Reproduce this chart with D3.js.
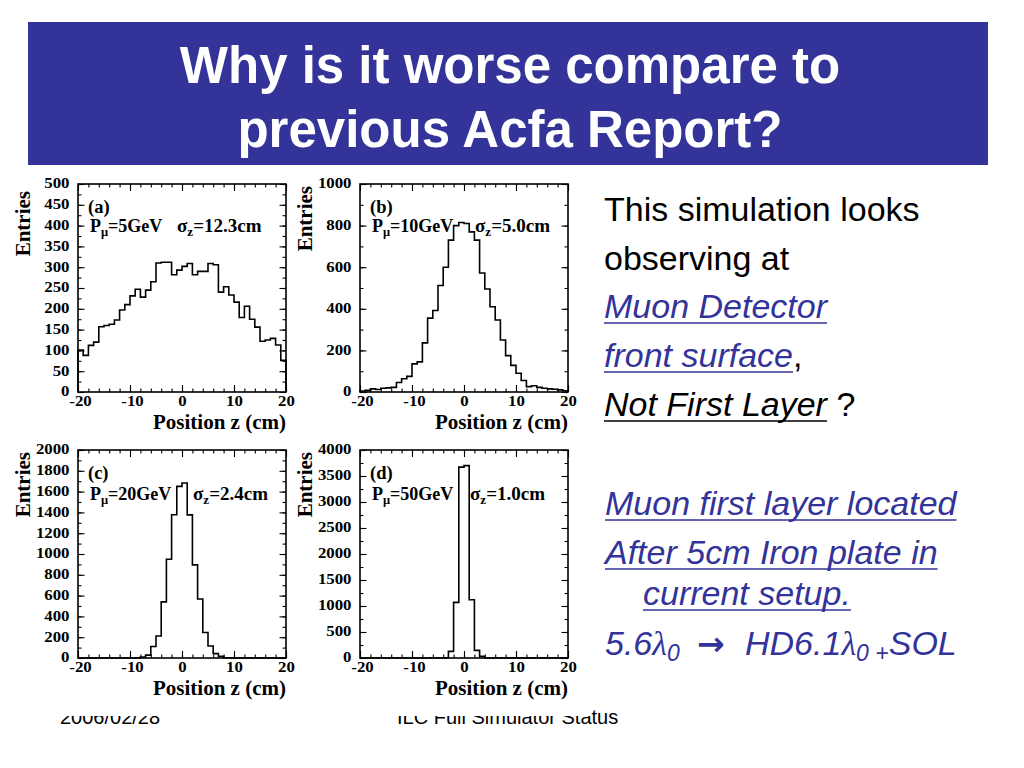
<!DOCTYPE html>
<html>
<head>
<meta charset="utf-8">
<script src="https://cdn.jsdelivr.net/npm/d3@7"></script>
<style>
  body { margin: 0; background: #fff; }
  svg { display: block; }
</style>
</head>
<body>
<svg id="slide" width="1024" height="768"></svg>
<script>
// lower edges of the 1 cm bins, -20 .. 19
const zBins = d3.range(-20, 20, 1);

// entries per bin
const countsA = [101, 88, 112, 120, 157, 160, 163, 173, 197, 210,
                 231, 247, 228, 245, 265, 310, 312, 312, 282, 293,
                 302, 309, 282, 290, 290, 309, 306, 240, 253, 233,
                 216, 179, 206, 175, 156, 122, 125, 129, 113, 76];
const countsB = [5, 8, 15, 12, 18, 20, 22, 46, 64, 75,
                 135, 145, 236, 355, 392, 512, 600, 730, 800, 815,
                 810, 770, 730, 572, 495, 410, 346, 250, 175, 128,
                 90, 55, 26, 30, 22, 18, 15, 13, 10, 6];
const countsC = [0, 0, 0, 0, 0, 0, 0, 0, 0, 0,
                 0, 0, 10, 28, 110, 212, 540, 950, 1378, 1650,
                 1683, 1376, 895, 568, 245, 116, 42, 16, 3, 0,
                 0, 0, 0, 0, 0, 0, 0, 0, 0, 0];
const countsD = [0, 0, 0, 0, 0, 0, 0, 0, 0, 0,
                 0, 0, 0, 0, 0, 0, 3, 128, 1070, 3670,
                 3700, 1120, 147, 32, 0, 0, 0, 0, 0, 0,
                 0, 0, 0, 0, 0, 0, 0, 0, 0, 0];

const panelTags  = ['(a)', '(b)', '(c)', '(d)'];
const momenta    = ['5GeV', '10GeV', '20GeV', '50GeV'];
const sigmas     = ['12.3cm', '5.0cm', '2.4cm', '1.0cm'];
const yMax       = [500, 1000, 2000, 4000];
const yLabelStep = [50, 200, 200, 500];
const yMinorStep = [25, 100, 100, 250];
const xMajor     = [-20, -10, 0, 10, 20];
const xMinor     = d3.range(-20, 21, 2);

const counts = [countsA, countsB, countsC, countsD];

// layout of the four frames (pixels)
const frames = [
  {x: 78,  y: 184, sx: 99},
  {x: 360, y: 184, sx: 115},
  {x: 78,  y: 450, sx: 115},
  {x: 360, y: 450, sx: 110}
];
const FW = 208, FH = 208;

const BLUE = '#333399';
const SERIF = '"Liberation Serif", "Times New Roman", serif';
const SANS = '"Liberation Sans", Arial, sans-serif';

const svg = d3.select('#slide');

// ---- title bar
svg.append('rect')
  .attr('x', 28).attr('y', 22).attr('width', 960).attr('height', 143)
  .attr('fill', BLUE);

svg.selectAll('.title')
  .data(['Why is it worse compare to', 'previous Acfa Report?'])
  .join('text')
  .attr('class', 'title')
  .attr('x', 510)
  .attr('y', (d, i) => 83 + i * 64)
  .attr('text-anchor', 'middle')
  .attr('font-family', SANS)
  .attr('font-weight', 'bold')
  .attr('font-size', 51)
  .attr('fill', '#fff')
  .text(d => d);

// ---- footer (partly hidden behind the pasted plot picture)
const footer = svg.append('g')
  .attr('font-family', SANS)
  .attr('font-size', 20)
  .attr('fill', '#000');
footer.append('text').attr('x', 60).attr('y', 724).text('2006/02/28');
footer.append('text').attr('x', 397).attr('y', 724).text('ILC Full Simulator Status');

svg.append('rect')
  .attr('x', 0).attr('y', 166).attr('width', 590).attr('height', 550)
  .attr('fill', '#fff');

// wider, heavier look of the plot's digits
function stretch(sel, k) {
  sel.each(function() {
    const w = this.getComputedTextLength();
    d3.select(this).attr('textLength', w * k).attr('lengthAdjust', 'spacingAndGlyphs');
  });
}

// ---- histograms
function drawPanel(k) {
  const f = frames[k],
      data = counts[k],
      g = svg.append('g').attr('transform', 'translate(' + f.x + ',' + f.y + ')');

  const x = d3.scaleLinear().domain([-20, 20]).range([0, FW]),
      y = d3.scaleLinear().domain([0, yMax[k]]).range([FH, 0]);

  const yMajor = d3.range(0, yMax[k] + 1, yLabelStep[k]),
      yMin = d3.range(0, yMax[k] + 1, yMinorStep[k]);

  function style(sel, labels) {
    sel.select('.domain').remove();
    sel.selectAll('line').attr('stroke', '#000').attr('stroke-width', 1.1);
    sel.selectAll('text')
      .attr('font-family', SERIF)
      .attr('font-weight', 'bold')
      .attr('font-size', 15)
      .attr('fill', '#000');
    if (!labels) sel.selectAll('text').remove();
  }

  // minor ticks, all four sides
  g.append('g').call(d3.axisLeft(y).tickValues(yMin).tickSize(-3.5)).call(style, false);
  g.append('g').attr('transform', 'translate(' + FW + ',0)')
    .call(d3.axisRight(y).tickValues(yMin).tickSize(-3.5)).call(style, false);
  g.append('g').attr('transform', 'translate(0,' + FH + ')')
    .call(d3.axisBottom(x).tickValues(xMinor).tickSize(-3.5)).call(style, false);
  g.append('g').call(d3.axisTop(x).tickValues(xMinor).tickSize(-3.5)).call(style, false);

  // major ticks with labels
  const yl = g.append('g')
    .call(d3.axisLeft(y).tickValues(yMajor).tickSize(-6.5).tickPadding(8.5).tickFormat(d => String(d)))
    .call(style, true);
  yl.selectAll('text').attr('dy', '0.26em').call(stretch, 1.12);

  g.append('g').attr('transform', 'translate(' + FW + ',0)')
    .call(d3.axisRight(y).tickValues(yMajor).tickSize(-6.5)).call(style, false);

  const xl = g.append('g').attr('transform', 'translate(0,' + FH + ')')
    .call(d3.axisBottom(x).tickValues(xMajor).tickSize(-7).tickPadding(3.5).tickFormat(d => String(d)))
    .call(style, true);
  xl.selectAll('text').attr('dx', d => d < 0 ? 2 : 0).call(stretch, 1.12);

  g.append('g').call(d3.axisTop(x).tickValues(xMajor).tickSize(-7)).call(style, false);

  // histogram outline
  const pts = [[-20, 0]]
    .concat(data.map((c, i) => [zBins[i], c]))
    .concat([[20, data[data.length - 1]], [20, 0]]);
  g.append('path')
    .attr('d', d3.line().x(d => x(d[0])).y(d => y(d[1])).curve(d3.curveStepAfter)(pts))
    .attr('fill', 'none')
    .attr('stroke', '#000')
    .attr('stroke-width', 1.6);

  // frame
  g.append('rect')
    .attr('width', FW).attr('height', FH)
    .attr('fill', 'none')
    .attr('stroke', '#000')
    .attr('stroke-width', 1.6);

  // axis titles
  g.append('text')
    .attr('x', FW).attr('y', FH + 37)
    .attr('text-anchor', 'end')
    .attr('font-family', SERIF).attr('font-weight', 'bold').attr('font-size', 21)
    .text('Position z (cm)');
  g.append('text')
    .attr('transform', 'translate(-48,' + (k === 0 ? 7 : 2) + ') rotate(-90)')
    .attr('text-anchor', 'end')
    .attr('font-family', SERIF).attr('font-weight', 'bold').attr('font-size', 21)
    .text('Entries');

  // annotations
  const ann = g.append('g')
    .attr('font-family', SERIF).attr('font-weight', 'bold').attr('fill', '#000');
  ann.append('text').attr('x', 10).attr('y', 29).attr('font-size', 18.5).text(panelTags[k]);

  const py = k < 2 ? 48 : 50;
  const p = ann.append('text').attr('x', 12).attr('y', py).attr('font-size', 18);
  p.append('tspan').text('P');
  p.append('tspan').attr('font-size', 12.5).attr('dy', 4).text('\u03bc');
  p.append('tspan').attr('dy', -4).text('=' + momenta[k]);

  const s = ann.append('text').attr('x', f.sx).attr('y', py).attr('font-size', 19);
  s.append('tspan').text('\u03c3');
  s.append('tspan').attr('font-size', 13).attr('dy', 4).text('z');
  s.append('tspan').attr('dy', -4).text('=' + sigmas[k]);
}

d3.range(4).forEach(drawPanel);

// ---- bullet text on the right
const FS = 34;

function writeLine(x0, baseline, parts) {
  let cx = x0;
  parts.forEach(part => {
    if (part.x !== undefined) cx = part.x;
    const t = svg.append('text')
      .attr('x', cx)
      .attr('y', baseline + (part.sub ? 6 : 0))
      .attr('font-family', part.font || SANS)
      .attr('font-size', part.size || (part.sub ? 23 : FS))
      .attr('font-style', part.italic ? 'italic' : 'normal')
      .attr('font-weight', part.bold ? 'bold' : 'normal')
      .attr('fill', part.fill || '#000')
      .attr('xml:space', 'preserve')
      .style('white-space', 'pre')
      .text(part.t);
    const w = t.node().getComputedTextLength();
    if (part.under) {
      svg.append('line')
        .attr('x1', cx).attr('x2', cx + w)
        .attr('y1', baseline + 5).attr('y2', baseline + 5)
        .attr('stroke', part.fill || '#000')
        .attr('stroke-width', 1.5);
    }
    cx += w;
  });
}

writeLine(604, 221, [{t: 'This simulation looks'}]);
writeLine(604, 270, [{t: 'observing at'}]);
writeLine(604, 318, [{t: 'Muon Detector', italic: true, under: true, fill: BLUE}]);
writeLine(604, 367, [{t: 'front surface', italic: true, under: true, fill: BLUE}, {t: ','}]);
writeLine(604, 416, [{t: 'Not First Layer', italic: true, under: true}, {t: ' ?'}]);

writeLine(605, 515, [{t: 'Muon first layer located', italic: true, under: true, fill: BLUE}]);
writeLine(605, 564, [{t: 'After 5cm Iron plate in', italic: true, under: true, fill: BLUE}]);
writeLine(643, 605, [{t: 'current setup.', italic: true, under: true, fill: BLUE}]);
writeLine(605, 655, [
  {t: '5.6', italic: true, fill: BLUE},
  {t: '\u03bb', italic: true, font: SERIF, fill: BLUE},
  {t: '0', italic: true, sub: true, fill: BLUE},
  {t: '\u2192', x: 697, bold: true, font: '"DejaVu Sans", sans-serif', size: 33, fill: BLUE},
  {t: 'HD6.1', x: 745, italic: true, fill: BLUE},
  {t: '\u03bb', italic: true, font: SERIF, fill: BLUE},
  {t: '0 +', italic: true, sub: true, fill: BLUE},
  {t: 'SOL', italic: true, fill: BLUE}
]);
</script>
</body>
</html>
